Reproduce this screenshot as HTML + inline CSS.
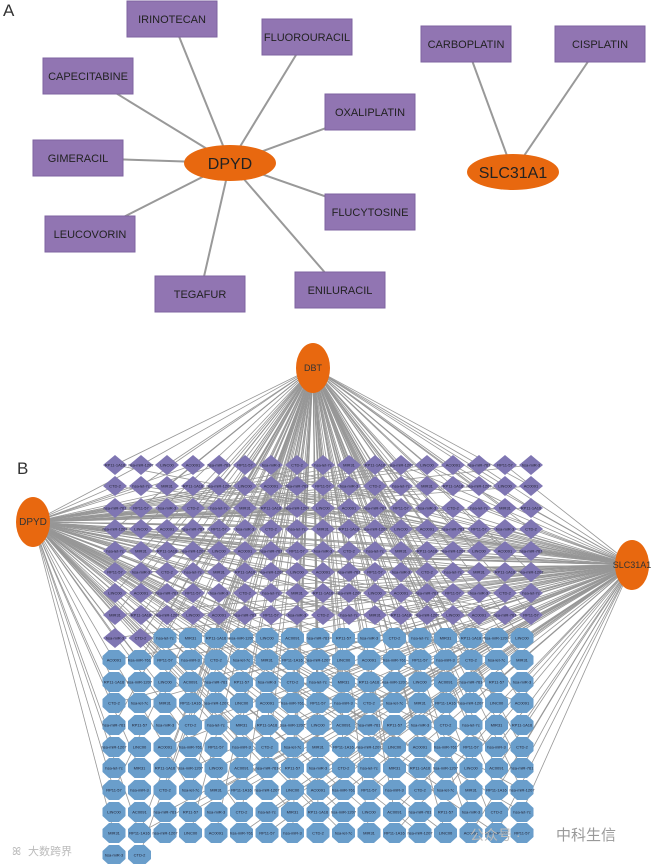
<!DOCTYPE html>
<html><head><meta charset="utf-8"><style>
body{margin:0;background:#fff;width:652px;height:864px;overflow:hidden;font-family:"Liberation Sans","Noto Sans CJK SC",sans-serif}
svg{position:absolute;left:0;top:0}
</style></head><body>
<svg id="s" width="652" height="864" viewBox="0 0 652 864" font-family="Liberation Sans, Noto Sans CJK SC, sans-serif">
<text x="3" y="16" font-size="17" fill="#333">A</text>
<text x="17" y="474" font-size="17" fill="#333">B</text>
<g id="a"></g>
<g id="e" stroke="#8c8c8c" stroke-width="0.8" opacity="0.9"></g>
<g id="n"></g>
<g id="h"></g>
<text x="28" y="855" font-size="11" fill="#bbb">大数跨界</text>
<text x="12" y="855" font-size="11" fill="#bbb">ꕤ</text>
<text x="470" y="840" font-size="14" fill="#bbb">公众号 ·</text>
<text x="556" y="840" font-size="15" fill="#999">中科生信</text>
</svg>
<script>
var NS="http://www.w3.org/2000/svg";
function el(p,t,a,txt){var e=document.createElementNS(NS,t);for(var k in a)e.setAttribute(k,a[k]);if(txt!=null)e.textContent=txt;document.getElementById(p).appendChild(e);return e;}
var D=[230,163],S=[513,172];
var A=[["IRINOTECAN",172,19],["FLUOROURACIL",307,37],["CAPECITABINE",88,76],["OXALIPLATIN",370,112],["GIMERACIL",78,158],["FLUCYTOSINE",370,212],["LEUCOVORIN",90,234],["TEGAFUR",200,294],["ENILURACIL",340,290]];
var B=[["CARBOPLATIN",466,44],["CISPLATIN",600,44]];
A.forEach(function(r){el("a","line",{x1:D[0],y1:D[1],x2:r[1],y2:r[2],stroke:"#999","stroke-width":2});});
B.forEach(function(r){el("a","line",{x1:S[0],y1:S[1],x2:r[1],y2:r[2],stroke:"#999","stroke-width":2});});
A.concat(B).forEach(function(r){el("a","rect",{x:r[1]-45,y:r[2]-18,width:90,height:36,fill:"#9175b2",stroke:"#7e63a0","stroke-width":1});
el("a","text",{x:r[1],y:r[2]+4,"font-size":11,"text-anchor":"middle",fill:"#222"},r[0]);});
[[D,"DPYD"],[S,"SLC31A1"]].forEach(function(q){el("a","ellipse",{cx:q[0][0],cy:q[0][1],rx:46,ry:18,fill:"#e8680f"});
el("a","text",{x:q[0][0],y:q[0][1]+6,"font-size":16,"text-anchor":"middle",fill:"#222"},q[1]);});
var seed=7;function rnd(){seed=(seed*9301+49297)%233280;return seed/233280;}
var dy=[465,486,508,529,551,572,593,615];var nodes=[];
dy.forEach(function(y){for(var i=0;i<17;i++)nodes.push(["d",115+i*26,y]);});
var oy=[638,660,682,703,725,747,768,790,812,833,855];
oy.forEach(function(y,ri){var n=ri==oy.length-1?2:17;for(var i=0;i<n;i++){if(ri==0&&i<2){nodes.push(["d",115+i*25.5,y]);continue;}nodes.push(["o",114+i*25.5,y]);}});
var H=[[313,368],[33,522],[632,565]];
nodes.forEach(function(nd){for(var k=0;k<3;k++){var p=[0.6,0.45,0.45][k];if(nd[0]=="o")p*=0.6;if(rnd()<p)el("e","line",{x1:H[k][0],y1:H[k][1],x2:nd[1],y2:nd[2]});}});
var lbl=["RP11-1A16","hsa-miR-1207","LINC00","AC0091","hsa-miR-761","RP11-57","hsa-miR-3","CTD-2","hsa-let-7c","MIR31"];
nodes.forEach(function(nd,i){var x=nd[1],y=nd[2];
if(nd[0]=="d")el("n","polygon",{points:(x-12)+","+y+" "+x+","+(y-10)+" "+(x+12)+","+y+" "+x+","+(y+10),fill:"#7f76b3"});
else el("n","polygon",{points:[[-5,-10],[5,-10],[11.5,-4],[11.5,4],[5,10],[-5,10],[-11.5,4],[-11.5,-4]].map(function(q){return (x+q[0])+","+(y+q[1]);}).join(" "),fill:"#6a9ecb"});
el("n","text",{x:x,y:y+1.5,"font-size":4,"text-anchor":"middle",fill:"#223"},lbl[i%lbl.length]);});
[[313,368,"DBT",17,25,9],[33,522,"DPYD",17,25,10],[632,565,"SLC31A1",17,25,9]].forEach(function(q){
el("h","ellipse",{cx:q[0],cy:q[1],rx:q[3],ry:q[4],fill:"#e8680f"});
el("h","text",{x:q[0],y:q[1]+3,"font-size":q[5],"text-anchor":"middle",fill:"#333"},q[2]);});
</script>
</body></html>
